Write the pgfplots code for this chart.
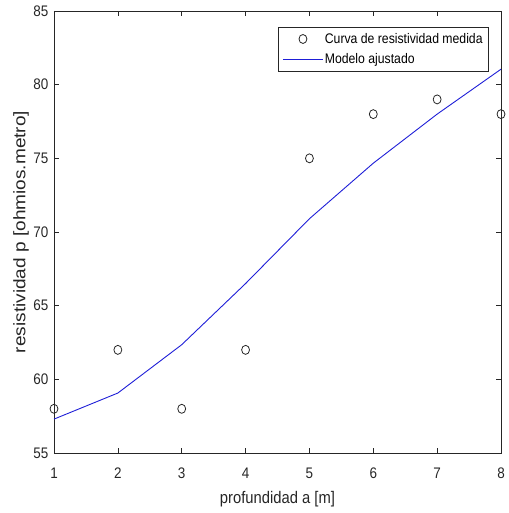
\documentclass[border=0pt]{standalone}
\usepackage{fontspec}
\setmainfont{Liberation Sans}[FakeStretch=0.88]
\newfontfamily\yfont{Liberation Sans}[FakeStretch=1.14]
\usepackage{pgfplots}
\pgfplotsset{compat=1.18}
\definecolor{mlblue}{RGB}{30,30,215}
\definecolor{mlgray}{RGB}{38,38,38}
\pgfplotsset{
  mlegend/.style={legend image code/.code={\draw[mark repeat=2,mark phase=2,##1] plot coordinates {(0pt,0pt) (20pt,0pt) (40pt,0pt)};}},
  llegend/.style={legend image code/.code={\draw[##1] (0pt,0pt) -- (40pt,0pt);}},
}
\begin{document}
\begin{tikzpicture}
\begin{axis}[
  name=ax,
  scale only axis,
  width=447pt, height=442pt,
  xmin=1, xmax=8, ymin=55, ymax=85,
  xtick={1,...,8}, ytick={55,60,...,85},
  tick align=inside,
  major tick length=5pt,
  axis line style={draw=mlgray, line width=0.6pt},
  tick style={mlgray, line width=0.6pt},
  /pgf/number format/assume math mode=true,
  tick label style={font=\fontsize{15.3}{17}\selectfont, text=mlgray},
  xticklabel style={anchor=center, inner sep=0pt, yshift=-20pt},
  yticklabel style={anchor=east, inner sep=0pt, xshift=-5.5pt},
  xlabel={profundidad a [m]},
  ylabel={resistividad p [ohmios.metro]},
  every axis x label/.style={at={(axis description cs:0.5,0)}, anchor=center, yshift=-46pt,
    font=\fontsize{16.8}{18}\selectfont, text=mlgray, inner sep=0pt},
  every axis y label/.style={at={(axis description cs:-0.0738,0.5)}, rotate=90, anchor=center,
    font=\yfont\fontsize{16.7}{18}\selectfont, text=mlgray, inner sep=0pt},
  legend style={at={(0.973,0.964)}, anchor=north east, draw=mlgray, line width=0.6pt,
    font=\fontsize{13.9}{16}\selectfont, row sep=6pt, inner xsep=4.5pt, inner ysep=4.5pt,
    nodes={inner sep=1.5pt}},
  legend cell align=left,
]
\addplot[only marks, mark=o, mark size=4.5pt, mlgray, mark options={line width=0.8pt, xscale=0.88}, mlegend] coordinates {
  (1,58) (2,62) (3,58) (4,62) (5,75) (6,78) (7,79) (8,78)};
\addlegendentry{Curva de resistividad medida}
\addplot[mlblue, line width=0.9pt, llegend] coordinates {
  (1,57.3) (2,59.07) (3,62.35) (4,66.5) (5,70.9) (6,74.67) (7,78.0) (8,81.05)};
\addlegendentry{Modelo ajustado}
\end{axis}
\pgfresetboundingbox
\path[use as bounding box] ([shift={(-54pt,-60pt)}]ax.south west) rectangle ([shift={(7pt,11pt)}]ax.north east);
\end{tikzpicture}
\end{document}
